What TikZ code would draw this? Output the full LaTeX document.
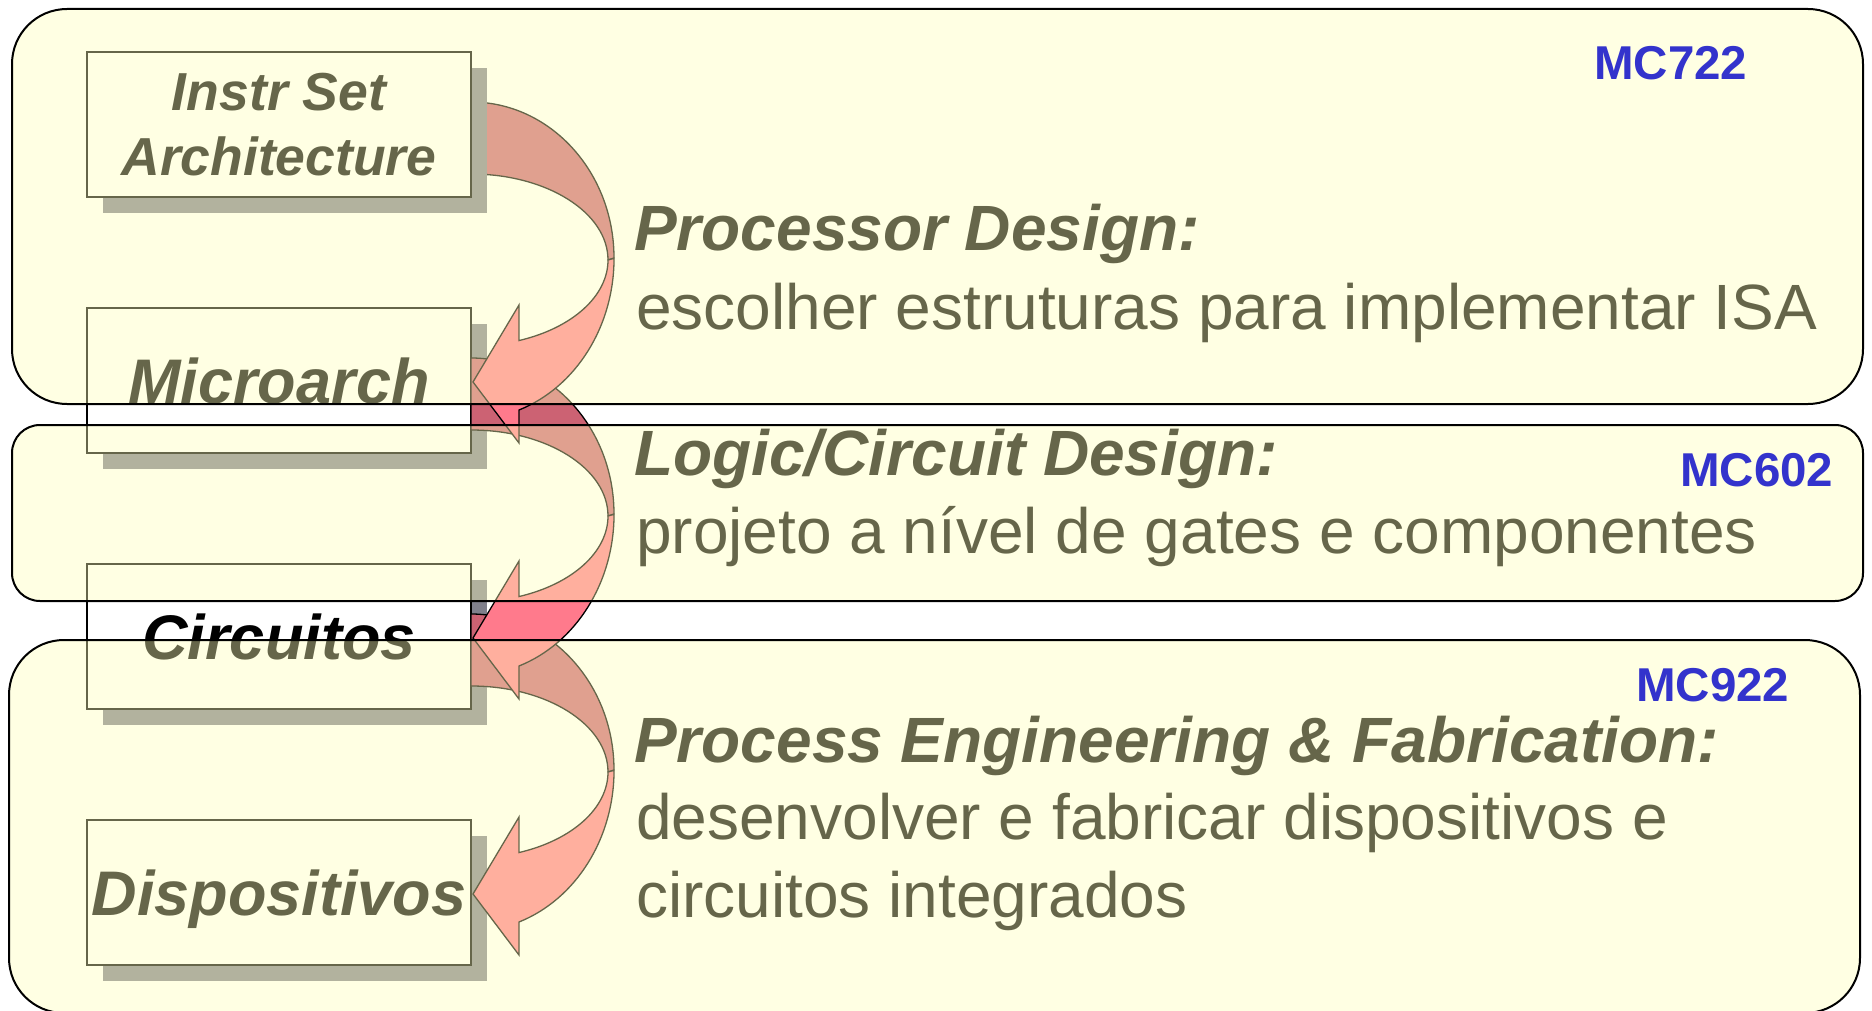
\documentclass[tikz,border=0pt]{standalone}
\usepackage{fontspec}
\setmainfont{Liberation Sans}
\usetikzlibrary{shadows}
\definecolor{bandyellow}{RGB}{255,255,185}
\definecolor{shadowgray}{RGB}{128,128,140}
\definecolor{arrowlight}{RGB}{255,122,140}
\definecolor{arrowdark}{RGB}{204,98,115}
\definecolor{mcblue}{RGB}{51,51,204}
\begin{document}
\begin{tikzpicture}[x=1pt,y=-1pt,
  box/.style={draw=black, line width=1.5pt, fill=white, minimum width=384pt,
    minimum height=145pt, inner sep=0pt, outer sep=0pt,
    font=\bfseries\itshape\fontsize{63pt}{75pt}\selectfont,
    text height=45pt, text depth=0pt,
    drop shadow={shadow xshift=16pt, shadow yshift=-16pt, opacity=1, fill=shadowgray}},
  band/.style={draw=black, line width=2pt, fill=bandyellow, fill opacity=0.4, draw opacity=1},
  desc/.style={anchor=base west, inner sep=0pt, font=\fontsize{64pt}{77pt}\selectfont},
  deschead/.style={desc, font=\bfseries\itshape\fontsize{64pt}{77pt}\selectfont},
  course/.style={anchor=base west, inner sep=0pt, text=mcblue,
    font=\bfseries\fontsize{47.5pt}{57pt}\selectfont},
  arrowback/.style={fill=arrowdark, draw=black, line width=1.3pt, line join=round},
  arrowfront/.style={fill=arrowlight, draw=black, line width=1.3pt, line join=miter}]
\useasboundingbox (0,0) rectangle (1872,1011);
\fill[white] (0,0) rectangle (1872,1011);
% lower boxes
\node[box] (micro) at (279,380.5) {Microarch};
\node[box] (circ) at (279,636.5) {Circuitos};
\node[box] (disp) at (279,892.5) {Dispositivos};
% curved arrows, each ending at its target box
\foreach \t in {disp,circ,micro}{
  \begin{scope}[shift={(\t.north east)}, shift={(0,-256)}]
    \filldraw[arrowback] (0,50) arc[start angle=90, end angle=0, x radius=143pt, y radius=156pt]
      -- (137,208) arc[start angle=0, end angle=90, x radius=137pt, y radius=86pt] -- cycle;
    \filldraw[arrowfront] (137,208) arc[start angle=0, end angle=-69.5, x radius=137pt, y radius=86pt]
      -- (48,253) -- (2,330) -- (48,391) -- (48,358)
      arc[start angle=-70.4, end angle=0, x radius=143pt, y radius=161pt] -- cycle;
  \end{scope}
}
% top box
\node[box, align=center, text height=, text depth=,
  font=\bfseries\itshape\fontsize{53.5pt}{65pt}\selectfont] (isa) at (279,124.5) {Instr Set\\Architecture};
% descriptions
\node[deschead] (pdh) at (634,251) {Processor Design:};
\node[desc] (pdt) at (636,329) {escolher estruturas para implementar ISA};
\node[deschead] (ldh) at (634,475) {Logic/Circuit Design:};
\node[desc] (ldt) at (636,553) {projeto a nível de gates e componentes};
\node[deschead] (peh) at (634,762) {Process Engineering \& Fabrication:};
\node[desc] (pet1) at (636,839) {desenvolver e fabricar dispositivos e};
\node[desc] (pet2) at (636,917) {circuitos integrados};
% course bands
\draw[band, rounded corners=55pt] (12,9) rectangle (1863,404);
\draw[band, rounded corners=28pt] (12,425) rectangle (1863,601);
\draw[band, rounded corners=55pt] (9,640) rectangle (1860,1013);
% course labels
\node[course] (mc722) at (1594,80) {MC722};
\node[course] (mc602) at (1680,486) {MC602};
\node[course] (mc922) at (1636,701) {MC922};
\end{tikzpicture}
\end{document}
